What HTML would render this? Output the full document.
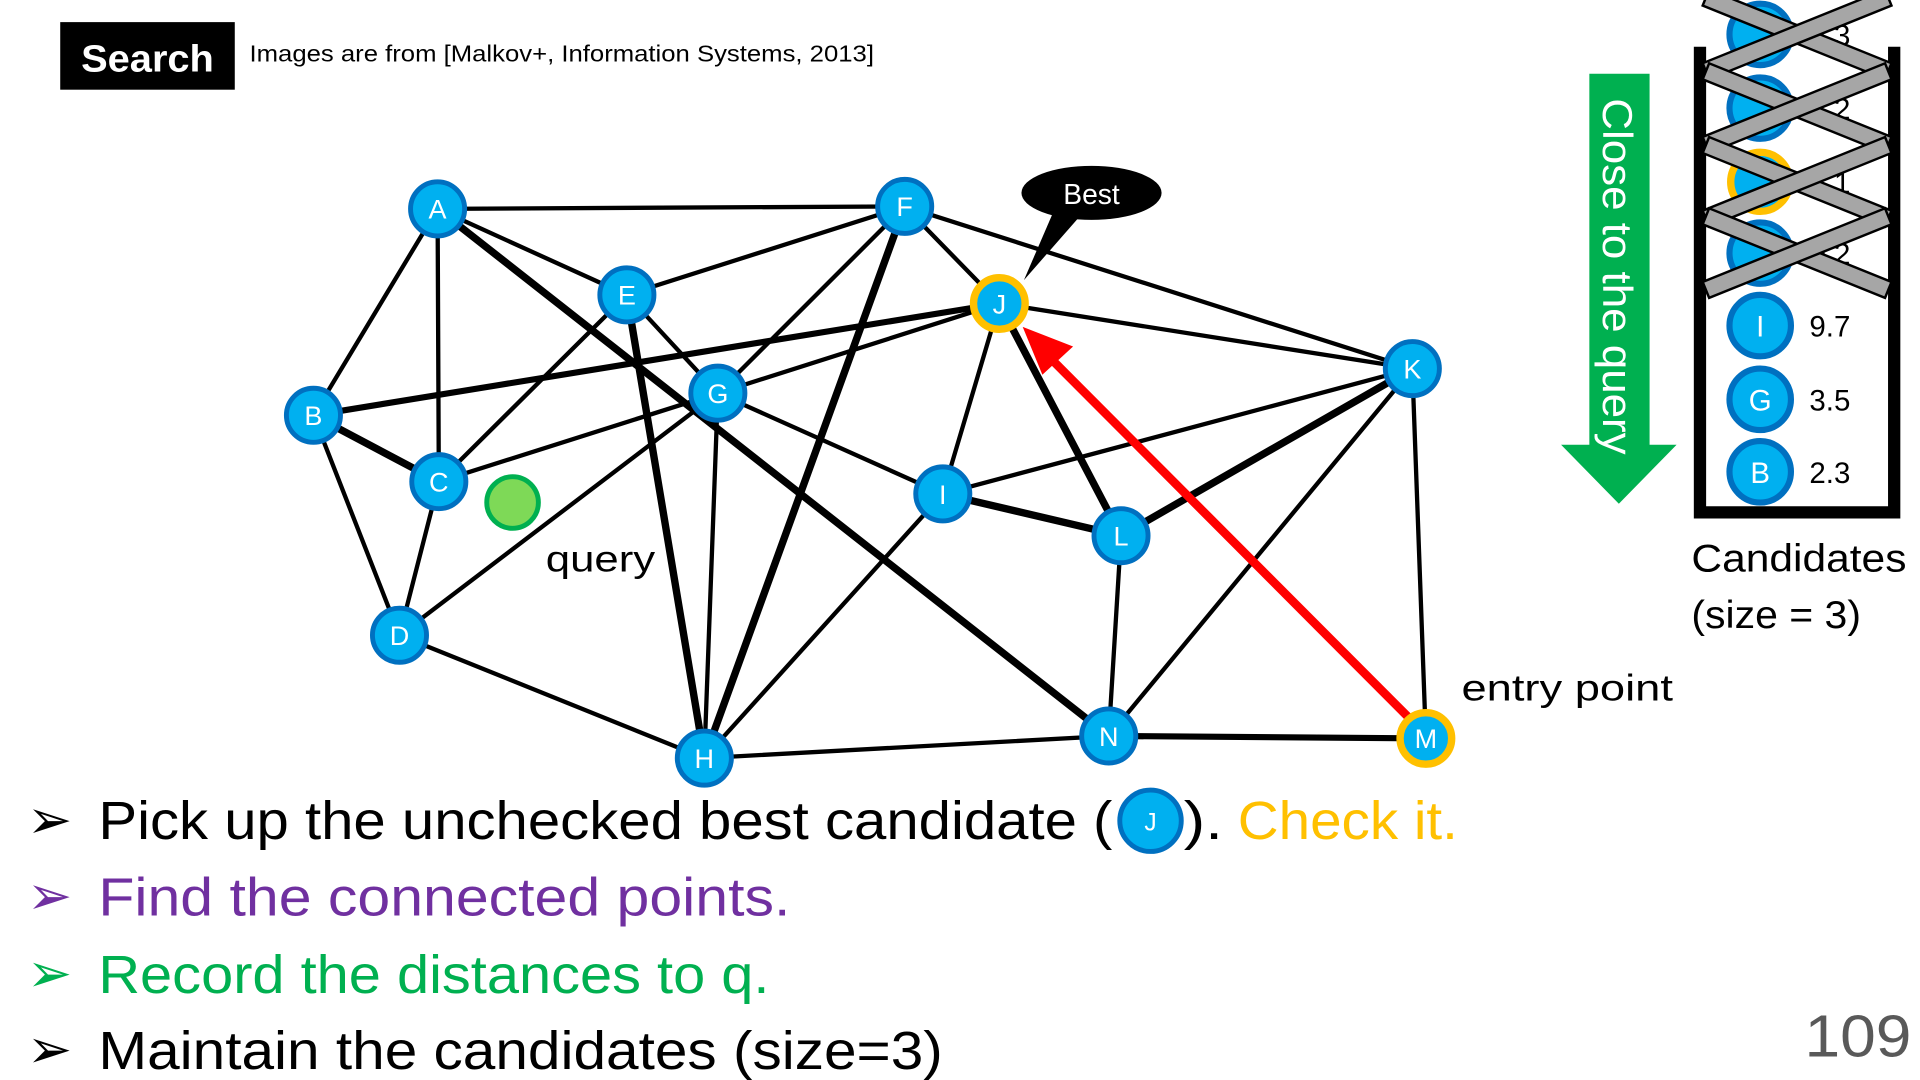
<!DOCTYPE html>
<html><head><meta charset="utf-8"><style>
html,body{margin:0;padding:0;background:#fff;}
svg{display:block;}
text{font-family:"Liberation Sans",sans-serif;}
</style></head><body>
<svg width="1920" height="1080" viewBox="0 0 1562 879" preserveAspectRatio="none" xmlns="http://www.w3.org/2000/svg">
<rect x="0" y="0" width="1562" height="879" fill="#fff"/>
<!-- header -->
<rect x="49" y="18" width="142" height="55" fill="#000"/>
<text x="120" y="58" font-size="31" font-weight="bold" fill="#fff" text-anchor="middle" textLength="108" lengthAdjust="spacingAndGlyphs">Search</text>
<text x="203" y="50" font-size="19" fill="#000" textLength="508" lengthAdjust="spacingAndGlyphs">Images are from [Malkov+, Information Systems, 2013]</text>

<!-- edges -->
<g stroke="#000" stroke-linecap="round" fill="none">
<g stroke-width="3.5">
<line x1="356" y1="170" x2="736" y2="168"/>
<line x1="356" y1="170" x2="255" y2="338"/>
<line x1="356" y1="170" x2="357" y2="392"/>
<line x1="356" y1="170" x2="510" y2="240"/>
<line x1="255" y1="338" x2="325" y2="517"/>
<line x1="357" y1="392" x2="325" y2="517"/>
<line x1="357" y1="392" x2="510" y2="240"/>
<line x1="357" y1="392" x2="584" y2="320"/>
<line x1="584" y1="320" x2="813" y2="247"/>
<line x1="325" y1="517" x2="584" y2="320"/>
<line x1="325" y1="517" x2="573" y2="617"/>
<line x1="510" y1="240" x2="736" y2="168"/>
<line x1="510" y1="240" x2="584" y2="320"/>
<line x1="736" y1="168" x2="584" y2="320"/>
<line x1="736" y1="168" x2="813" y2="247"/>
<line x1="736" y1="168" x2="1149" y2="300"/>
<line x1="584" y1="320" x2="573" y2="617"/>
<line x1="584" y1="320" x2="767" y2="402"/>
<line x1="573" y1="617" x2="767" y2="402"/>
<line x1="573" y1="617" x2="902" y2="599"/>
<line x1="767" y1="402" x2="813" y2="247"/>
<line x1="767" y1="402" x2="1149" y2="300"/>
<line x1="813" y1="247" x2="1149" y2="300"/>
<line x1="1149" y1="300" x2="902" y2="599"/>
<line x1="1149" y1="300" x2="1160" y2="601"/>
<line x1="912" y1="436" x2="902" y2="599"/>
</g>
<g stroke-width="5">
<line x1="902" y1="599" x2="1160" y2="601"/>
<line x1="255" y1="338" x2="813" y2="247"/>
</g>
<g stroke-width="6">
<line x1="356" y1="170" x2="902" y2="599"/>
<line x1="255" y1="338" x2="357" y2="392"/>
<line x1="510" y1="240" x2="573" y2="617"/>
<line x1="736" y1="168" x2="573" y2="617"/>
<line x1="767" y1="402" x2="912" y2="436"/>
<line x1="813" y1="247" x2="912" y2="436"/>
<line x1="912" y1="436" x2="1149" y2="300"/>
</g>
</g>
<!-- red arrow -->
<line x1="1150" y1="588" x2="858" y2="295" stroke="#ff0000" stroke-width="7"/>
<polygon points="832,266 873,282 848,305" fill="#ff0000"/>

<!-- Best callout -->
<polygon points="858,170 882,172 833,228" fill="#000"/>
<ellipse cx="888" cy="157" rx="57" ry="22" fill="#000"/>
<text x="888" y="166" font-size="23" fill="#fff" text-anchor="middle">Best</text>

<!-- nodes -->
<g font-size="22" fill="#fff" text-anchor="middle">
<g stroke="#0070c0" stroke-width="4" fill="#00b0f0">
<circle cx="356" cy="170" r="22"/><circle cx="736" cy="168" r="22"/>
<circle cx="510" cy="240" r="22"/><circle cx="255" cy="338" r="22"/>
<circle cx="584" cy="320" r="22"/><circle cx="357" cy="392" r="22"/>
<circle cx="1149" cy="300" r="22"/><circle cx="767" cy="402" r="22"/>
<circle cx="912" cy="436" r="22"/><circle cx="325" cy="517" r="22"/>
<circle cx="573" cy="617" r="22"/><circle cx="902" cy="599" r="22"/>
</g>
<circle cx="813" cy="247" r="21" fill="#00b0f0" stroke="#ffc000" stroke-width="6"/>
<circle cx="1160" cy="601" r="21" fill="#00b0f0" stroke="#ffc000" stroke-width="6"/>
<text x="356" y="178">A</text><text x="736" y="176">F</text>
<text x="510" y="248">E</text><text x="255" y="346">B</text>
<text x="584" y="328">G</text><text x="357" y="400">C</text>
<text x="1149" y="308">K</text><text x="767" y="410">I</text>
<text x="912" y="444">L</text><text x="325" y="525">D</text>
<text x="573" y="625">H</text><text x="902" y="607">N</text>
<text x="813" y="255">J</text><text x="1160" y="609">M</text>
</g>
<circle cx="417" cy="409" r="21" fill="#7ed957" stroke="#00b050" stroke-width="4"/>
<text x="444" y="465" font-size="30" fill="#000" textLength="89" lengthAdjust="spacingAndGlyphs">query</text>
<text x="1189" y="570" font-size="30" fill="#000" textLength="172" lengthAdjust="spacingAndGlyphs">entry point</text>

<!-- green arrow -->
<polygon points="1293,60 1342,60 1342,362 1364,362 1317,410 1270,362 1293,362" fill="#00b050"/>
<text transform="translate(1304,80) rotate(90)" font-size="34" fill="#fff" textLength="290" lengthAdjust="spacingAndGlyphs">Close to the query</text>

<!-- candidates container -->
<path d="M1383,38 L1383,417 L1541,417 L1541,38" fill="none" stroke="#000" stroke-width="10"/>
<g stroke="#0070c0" stroke-width="5" fill="#00b0f0">
<circle cx="1432" cy="28" r="25"/><circle cx="1432" cy="88" r="25"/>
<circle cx="1432" cy="206" r="25"/>
<circle cx="1432" cy="265" r="25"/><circle cx="1432" cy="325" r="25"/>
<circle cx="1432" cy="384" r="25"/>
</g>
<circle cx="1432" cy="148" r="24" fill="#00b0f0" stroke="#ffc000" stroke-width="6"/>
<g font-size="24" fill="#000">
<text x="1472" y="37">5.3</text><text x="1472" y="97">3.2</text>
<text x="1472" y="157">1.1</text><text x="1472" y="215">0.2</text>
<text x="1472" y="274">9.7</text><text x="1472" y="334">3.5</text>
<text x="1472" y="393">2.3</text>
</g>
<g font-size="24" fill="#fff" text-anchor="middle">
<text x="1432" y="274">I</text><text x="1432" y="334">G</text><text x="1432" y="393">B</text>
</g>
<!-- crosses -->
<g fill="#a6a6a6" stroke="#000" stroke-width="2">
<g transform="translate(1462,28)"><rect x="-80" y="-7" width="160" height="14" transform="rotate(22)"/><rect x="-80" y="-7" width="160" height="14" transform="rotate(-22)"/></g>
<g transform="translate(1462,88)"><rect x="-80" y="-7" width="160" height="14" transform="rotate(22)"/><rect x="-80" y="-7" width="160" height="14" transform="rotate(-22)"/></g>
<g transform="translate(1462,148)"><rect x="-80" y="-7" width="160" height="14" transform="rotate(22)"/><rect x="-80" y="-7" width="160" height="14" transform="rotate(-22)"/></g>
<g transform="translate(1462,206)"><rect x="-80" y="-7" width="160" height="14" transform="rotate(22)"/><rect x="-80" y="-7" width="160" height="14" transform="rotate(-22)"/></g>
</g>
<text x="1376" y="465" font-size="32" fill="#000" textLength="175" lengthAdjust="spacingAndGlyphs">Candidates</text>
<text x="1376" y="511" font-size="32" fill="#000" textLength="138" lengthAdjust="spacingAndGlyphs">(size = 3)</text>

<!-- bullets -->
<g font-size="44">
<text x="22" y="682" fill="#000">&#x27A2;</text>
<text x="80" y="683" fill="#000" textLength="825" lengthAdjust="spacingAndGlyphs">Pick up the unchecked best candidate (</text>
<circle cx="936" cy="668" r="25" fill="#00b0f0" stroke="#0070c0" stroke-width="4"/>
<text x="936" y="676" font-size="20" fill="#fff" text-anchor="middle">J</text>
<text x="963" y="683" fill="#000" textLength="32" lengthAdjust="spacingAndGlyphs">).</text>
<text x="1007" y="683" fill="#ffc000" textLength="179" lengthAdjust="spacingAndGlyphs">Check it.</text>
<text x="22" y="744" fill="#7030a0">&#x27A2;</text>
<text x="80" y="745" fill="#7030a0" textLength="563" lengthAdjust="spacingAndGlyphs">Find the connected points.</text>
<text x="22" y="807" fill="#00b050">&#x27A2;</text>
<text x="80" y="808" fill="#00b050" textLength="546" lengthAdjust="spacingAndGlyphs">Record the distances to q.</text>
<text x="22" y="869" fill="#000">&#x27A2;</text>
<text x="80" y="870" fill="#000" textLength="687" lengthAdjust="spacingAndGlyphs">Maintain the candidates (size=3)</text>
</g>
<text x="1555" y="860" font-size="48" fill="#595959" text-anchor="end" textLength="87" lengthAdjust="spacingAndGlyphs">109</text>
</svg>
</body></html>
